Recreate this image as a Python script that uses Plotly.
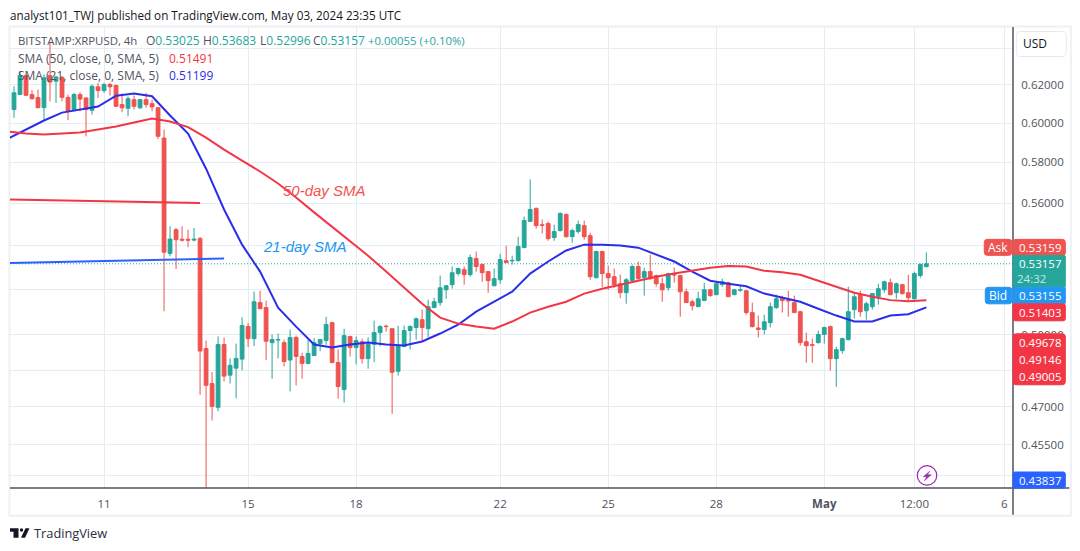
import pandas as pd
import plotly.graph_objects as go

# XRPUSD 4h candles
opens = [.6070,.6149,.6250,.6149,.6133,.6080,.6250,.6220,.6241,.6134,
         .6070,.6149,.6131,.6066,.6190,.6170,.6202,.6197,.6096,.6077,
         .6122,.6079,.6122,.6101,.6080,.5923,.5363,.5474,.5429,.5429,
         .5425,.5433,.4942,.4795,.4698,.4959,.4830,.4859,.4897,.5036,
         .4984,.5141,.5119,.4967,.4978,.4967,.4893,.4989,.4908,.4879,
         .4912,.4963,.4976,.5053,.4883,.4770,.4993,.4946,.4971,.4899,
         .4960,.5010,.5038,.5027,.4846,.4950,.5019,.5032,.5066,.5027,
         .5119,.5141,.5198,.5221,.5271,.5289,.5266,.5340,.5312,.5280,
         .5216,.5243,.5330,.5329,.5330,.5390,.5513,.5575,.5497,.5503,
         .5437,.5470,.5546,.5441,.5465,.5493,.5446,.5252,.5372,.5271,
         .5257,.5225,.5185,.5239,.5303,.5252,.5280,.5262,.5225,.5207,
         .5267,.5262,.5189,.5145,.5123,.5150,.5198,.5176,.5221,.5230,
         .5176,.5196,.5194,.5097,.5030,.5023,.5053,.5119,.5163,.5151,
         .5141,.5101,.4971,.4958,.4967,.5002,.5036,.4899,.4933,.4980,
         .5110,.5176,.5105,.5123,.5167,.5198,.5230,.5185,.5221,.5185,
         .5158,.5262,.53025]
highs = [.6193,.6274,.6256,.6172,.6176,.6256,.6428,.6247,.6247,.6149,
         .6158,.6161,.6134,.6202,.6211,.6211,.6211,.6202,.6154,.6140,
         .6143,.6125,.6158,.6122,.6080,.5967,.5490,.5482,.5490,.5474,
         .5482,.5439,.4976,.4843,.4994,.4989,.4900,.4963,.5076,.5052,
         .5190,.5194,.5150,.5002,.5006,.4980,.5023,.4997,.4924,.4980,
         .4987,.4983,.5079,.5057,.4938,.5027,.4997,.4994,.4984,.4990,
         .5062,.5042,.5045,.5027,.5040,.5040,.5042,.5076,.5110,.5154,
         .5163,.5262,.5219,.5303,.5298,.5304,.5358,.5372,.5317,.5280,
         .5294,.5362,.5399,.5353,.5441,.5536,.5716,.5580,.5522,.5513,
         .5498,.5556,.5551,.5479,.5517,.5517,.5460,.5376,.5376,.5307,
         .5294,.5266,.5252,.5312,.5326,.5297,.5358,.5266,.5252,.5275,
         .5298,.5266,.5203,.5154,.5189,.5230,.5203,.5236,.5248,.5234,
         .5203,.5216,.5194,.5141,.5084,.5088,.5141,.5176,.5172,.5194,
         .5172,.5105,.5010,.4984,.5019,.5036,.5040,.4950,.4989,.5212,
         .5189,.5194,.5145,.5181,.5225,.5239,.5248,.5230,.5225,.5266,
         .5280,.5317,.53683]
lows = [.6027,.6149,.6140,.6122,.6077,.6018,.6113,.6105,.6113,.6015,
        .6061,.6061,.5932,.6044,.6131,.6158,.6143,.6084,.6056,.6035,
        .6070,.6073,.6079,.6061,.5918,.5103,.5350,.5292,.5419,.5392,
        .5419,.4749,.4384,.4645,.4682,.4804,.4795,.4735,.4850,.4948,
        .4952,.5113,.4893,.4815,.4900,.4866,.4763,.4787,.4815,.4875,
        .4912,.4931,.4958,.4879,.4733,.4717,.4908,.4875,.4878,.4857,
        .4884,.4951,.5014,.4672,.4828,.4949,.4938,.4980,.4971,.4989,
        .5117,.5127,.5158,.5203,.5262,.5221,.5257,.5280,.5234,.5185,
        .5216,.5225,.5321,.5312,.5326,.5390,.5513,.5479,.5456,.5422,
        .5422,.5465,.5437,.5413,.5456,.5427,.5243,.5252,.5210,.5198,
        .5207,.5161,.5136,.5239,.5243,.5172,.5243,.5212,.5145,.5194,
        .5230,.5079,.5141,.5106,.5123,.5150,.5167,.5176,.5212,.5167,
        .5176,.5189,.5088,.5032,.4989,.5002,.5032,.5114,.5097,.5079,
        .5097,.4954,.4882,.4882,.4963,.4963,.4849,.4782,.4920,.4976,
        .5071,.5079,.5066,.5110,.5132,.5185,.5176,.5158,.5176,.5145,
        .5154,.5252,.52996]
closes = [.6158,.6250,.6145,.6127,.6080,.6238,.6215,.6243,.6134,.6061,
          .6149,.6125,.6070,.6193,.6170,.6202,.6190,.6087,.6079,.6127,
          .6087,.6122,.6096,.6084,.5932,.5369,.5430,.5427,.5425,.5425,
          .5429,.4931,.4788,.4702,.4959,.4826,.4871,.4900,.5041,.4984,
          .5145,.5114,.4973,.4980,.4980,.4887,.4989,.4908,.4879,.4921,
          .4967,.4980,.5045,.4883,.4783,.4997,.4946,.4976,.4899,.4961,
          .5010,.5036,.5036,.4842,.4954,.5019,.5036,.5070,.5032,.5123,
          .5145,.5207,.5216,.5275,.5294,.5266,.5344,.5303,.5275,.5239,
          .5248,.5335,.5321,.5331,.5395,.5517,.5570,.5493,.5495,.5432,
          .5465,.5551,.5441,.5470,.5498,.5441,.5257,.5372,.5271,.5252,
          .5221,.5185,.5243,.5303,.5248,.5280,.5248,.5225,.5198,.5271,
          .5265,.5189,.5141,.5127,.5158,.5198,.5172,.5225,.5234,.5167,
          .5198,.5198,.5097,.5036,.5024,.5057,.5123,.5158,.5150,.5149,
          .5097,.4967,.4954,.4956,.5002,.5032,.4899,.4937,.4984,.5101,
          .5167,.5101,.5136,.5181,.5203,.5234,.5176,.5225,.5181,.5163,
          .5271,.5312,.53157]

# moving averages, one reading every 12 hours
sma21 = [.5920,.5967,.6013,.6054,.6070,.6086,.6143,.6154,.6140,.6039,
         .5946,.5769,.5570,.5404,.5280,.5119,.5036,.4959,.4946,.4959,
         .4967,.4959,.4955,.4972,.5006,.5044,.5101,.5145,.5190,.5271,
         .5326,.5377,.5404,.5404,.5400,.5390,.5358,.5326,.5280,.5239,
         .5225,.5214,.5181,.5163,.5145,.5114,.5084,.5058,.5058,.5084,
         .5090,.5120]
sma50 = [.5956,.5946,.5941,.5946,.5951,.5967,.5982,.6003,.6023,.6008,
         .5979,.5925,.5864,.5809,.5755,.5696,.5628,.5556,.5489,.5422,
         .5353,.5280,.5207,.5136,.5075,.5049,.5036,.5027,.5058,.5097,
         .5123,.5145,.5181,.5203,.5221,.5239,.5257,.5271,.5284,.5298,
         .5305,.5303,.5284,.5277,.5266,.5239,.5212,.5185,.5167,.5152,
         .5147,.5151]

# the two hand drawn lines
red_mark_dates = ['2024-04-08 09:20', '2024-04-13 16:00']
red_mark_vals = [.5618, .5601]
blue_mark_dates = ['2024-04-08 09:20', '2024-04-14 08:00']
blue_mark_vals = [.5319, .5340]

y_ticks = [.64, .62, .60, .58, .56, .54, .52, .50, .485, .47, .455, .443]
# these sit behind the price tags and the USD button
y_hidden = [.64, .54, .52, .485]
x_ticks = ['2024-04-11', '2024-04-15', '2024-04-18', '2024-04-22', '2024-04-25',
           '2024-04-28', '2024-05-01', '2024-05-03 12:00', '2024-05-06']
x_labels = ['11', '15', '18', '22', '25', '28', '<b>May</b>', '12:00', '6']

GREEN = '#26a69a'
RED = '#ef5350'
FONT = 'Open Sans'
TEXT = '#50535e'

candle_dates = pd.date_range('2024-04-08 12:00', periods=len(opens), freq='4h')
sma_dates = pd.date_range('2024-04-08 08:00', periods=len(sma21), freq='12h')
x_range = ['2024-04-08 09:20', '2024-05-06 05:46']

# plot area in page pixels
L, R, T, B = 10, 1012.7, 27, 488.3


def px(x):
    return (x - L) / (R - L)


def py(y):
    return (B - y) / (B - T)


def box(x0, y0, x1, y1, fill, line=None, r=3):
    a, b, c, d = px(x0), py(y0), px(x1), py(y1)
    rx, ry = r / (R - L), r / (B - T)
    path = (f'M {a+rx} {b} L {c-rx} {b} Q {c} {b} {c} {b-ry} L {c} {d+ry} Q {c} {d} {c-rx} {d} '
            f'L {a+rx} {d} Q {a} {d} {a} {d+ry} L {a} {b-ry} Q {a} {b} {a+rx} {b} Z')
    return dict(type='path', path=path, xref='paper', yref='paper', layer='above', fillcolor=fill,
                line=dict(color=line or fill, width=1))


def seg(x0, y0, x1, y1, color, width):
    return dict(type='line', xref='paper', yref='paper', layer='above', x0=px(x0), y0=py(y0), x1=px(x1), y1=py(y1),
                line=dict(color=color, width=width))


def label(x, y, text, color=TEXT, size=12, anchor='left', family=FONT):
    return dict(xref='paper', yref='paper', x=px(x), y=py(y), text=text, showarrow=False, xanchor=anchor,
                yanchor='middle', xshift=0, font=dict(family=family, size=size, color=color),
                borderpad=0, borderwidth=0)


fig = go.Figure()
fig.add_trace(go.Candlestick(
    x=candle_dates, open=opens, high=highs, low=lows, close=closes,
    increasing=dict(line=dict(color=GREEN, width=1), fillcolor=GREEN),
    decreasing=dict(line=dict(color=RED, width=1), fillcolor=RED),
    showlegend=False))
fig.add_trace(go.Scatter(x=x_range, y=[closes[-1], closes[-1]], mode='lines',
                         line=dict(color=GREEN, width=1, dash='1px,2px'), showlegend=False))
fig.add_trace(go.Scatter(x=sma_dates, y=sma21, mode='lines', line=dict(color='#2a2ee8', width=2), showlegend=False))
fig.add_trace(go.Scatter(x=sma_dates, y=sma50, mode='lines', line=dict(color='#f23645', width=2), showlegend=False))
fig.add_trace(go.Scatter(x=red_mark_dates, y=red_mark_vals, mode='lines', line=dict(color='#f23645', width=2), showlegend=False))
fig.add_trace(go.Scatter(x=blue_mark_dates, y=blue_mark_vals, mode='lines', line=dict(color='#2962ff', width=2), showlegend=False))

shapes = [
    # outer frame
    dict(type='rect', xref='paper', yref='paper', layer='below', x0=px(9.5), y0=py(516), x1=px(1070.5), y1=py(26.5),
         line=dict(color='#eef0f4', width=2)),
    seg(R, 27, R, 515, '#50535e', 1.5),
    seg(L, B, 1069, B, '#50535e', 1.5),
    # USD button
    box(1016, 31.5, 1066, 56.5, '#ffffff', '#e6e9ef', 4),
    # price tags
    box(984, 239.5, 1011.5, 255.5, RED),
    box(R, 239.5, 1065, 256, RED),
    box(R, 255.7, 1065, 287.3, GREEN, None, 1),
    box(975 + 10, 287.5, 1011.5, 304, '#2196f3'),
    box(R, 287.3, 1065, 304, '#2196f3', None, 1),
    box(R, 304, 1065, 321, '#f23645', None, 2),
    box(R, 334, 1065, 385, '#f23645', None, 3),
    box(R, 472.3, 1065, 488.3, '#2962ff', None, 2),
    # bolt marker
    dict(type='circle', xref='paper', yref='paper', layer='above', x0=px(917), y0=py(485.5), x1=px(936.5), y1=py(466),
         fillcolor='rgba(255,255,255,0)', line=dict(color='#9c27b0', width=1.2)),
    dict(type='path', xref='paper', yref='paper', layer='above', fillcolor='#9c27b0', line=dict(color='#9c27b0', width=0.5),
         path=' '.join(f'{c} {px(x)} {py(y)}' for c, x, y in [('M', 929.5, 471.5), ('L', 923, 477), ('L', 926.5, 477),
                                                             ('L', 924, 481), ('L', 931, 475), ('L', 927, 475)]) + ' Z'),
    # TradingView logo
    dict(type='path', xref='paper', yref='paper', layer='above', fillcolor='#131722', line=dict(width=0),
         path=f'M {px(10)} {py(528.5)} L {px(18.5)} {py(528.5)} L {px(18.5)} {py(538)} L {px(13.5)} {py(538)} '
              f'L {px(13.5)} {py(532)} L {px(10)} {py(532)} Z'),
    dict(type='circle', xref='paper', yref='paper', layer='above', fillcolor='#131722', line=dict(width=0),
         x0=px(19.8), y0=py(532), x1=px(23.2), y1=py(528.5)),
    dict(type='path', xref='paper', yref='paper', layer='above', fillcolor='#131722', line=dict(width=0),
         path=f'M {px(25.5)} {py(528.5)} L {px(29.5)} {py(528.5)} L {px(25)} {py(538)} L {px(21)} {py(538)} Z'),
]

v_color = '#26a69a'
annotations = [
    label(10, 15, 'analyst101_TWJ published on TradingView.com, May 03, 2024 23:35 UTC', '#131722', 11.7),
    label(18, 41, 'BITSTAMP:XRPUSD, 4h', TEXT, 11.4),
    label(146, 41, f'O<span style="color:{v_color}">0.53025</span>'),
    label(203, 41, f'H<span style="color:{v_color}">0.53683</span>'),
    label(260, 41, f'L<span style="color:{v_color}">0.52996</span>'),
    label(313, 41, f'C<span style="color:{v_color}">0.53157</span>'),
    label(368, 41, '+0.00055 (+0.10%)', v_color, 11.4),
    label(18, 59, 'SMA (50, close, 0, SMA, 5)'),
    label(169, 59, '0.51491', '#f23645'),
    label(18, 76, 'SMA (21, close, 0, SMA, 5)'),
    label(169, 76, '0.51199', '#2a2ee8'),
    label(283, 191, '<i>50-day SMA</i>', '#f4524d', 15, family='Liberation Sans'),
    label(263, 247, '<i>21-day SMA</i>', '#2196f3', 15, family='Liberation Sans'),
    label(1034.5, 43.5, 'USD', '#131722', 12, 'center'),
    label(997.5, 247.5, 'Ask', '#ffffff', 12, 'center'),
    label(1040, 247.5, '0.53159', '#ffffff', 11.5, 'center'),
    label(1040, 264, '0.53157', '#ffffff', 11.5, 'center'),
    label(1031, 278.5, '24:32', '#c5e8e4', 11.5, 'center'),
    label(998, 295.5, 'Bid', '#ffffff', 12, 'center'),
    label(1040, 295.5, '0.53155', '#ffffff', 11.5, 'center'),
    label(1040, 312.5, '0.51403', '#ffffff', 11.5, 'center'),
    label(1040, 342.7, '0.49678', '#ffffff', 11.5, 'center'),
    label(1040, 360, '0.49146', '#ffffff', 11.5, 'center'),
    label(1040, 376.5, '0.49005', '#ffffff', 11.5, 'center'),
    label(1040, 480.5, '0.43837', '#ffffff', 11.5, 'center'),
    label(34, 533, 'TradingView', '#2a2e39', 12.8),
]

fig.update_layout(
    width=1080, height=551, autosize=False,
    margin=dict(l=L, r=1080 - R, t=T, b=551 - B, pad=0),
    paper_bgcolor='white', plot_bgcolor='white',
    hovermode=False, dragmode=False, boxgap=0.1,
    shapes=shapes, annotations=annotations,
    xaxis=dict(type='date', range=x_range, rangeslider=dict(visible=False), tickmode='array',
               tickvals=x_ticks, ticktext=x_labels, showgrid=True, gridcolor='#e3edf3', gridwidth=1,
               ticks='outside', ticklen=5, tickcolor='rgba(0,0,0,0)', zeroline=False,
               tickfont=dict(family=FONT, size=11.5, color=TEXT), tickangle=0),
    yaxis=dict(type='log', side='right', range=[-0.35823, -0.18596], tickmode='array',
               tickvals=y_ticks, ticktext=['' if v in y_hidden else f'{v:.5f}' for v in y_ticks], showgrid=True,
               gridcolor='#e3edf3', gridwidth=1, ticks='outside', ticklen=5, tickcolor='rgba(0,0,0,0)',
               zeroline=False, tickfont=dict(family=FONT, size=11.5, color=TEXT)),
)

fig.write_html("out.html", config=dict(displayModeBar=False), post_script="document.body.style.margin='0';")
